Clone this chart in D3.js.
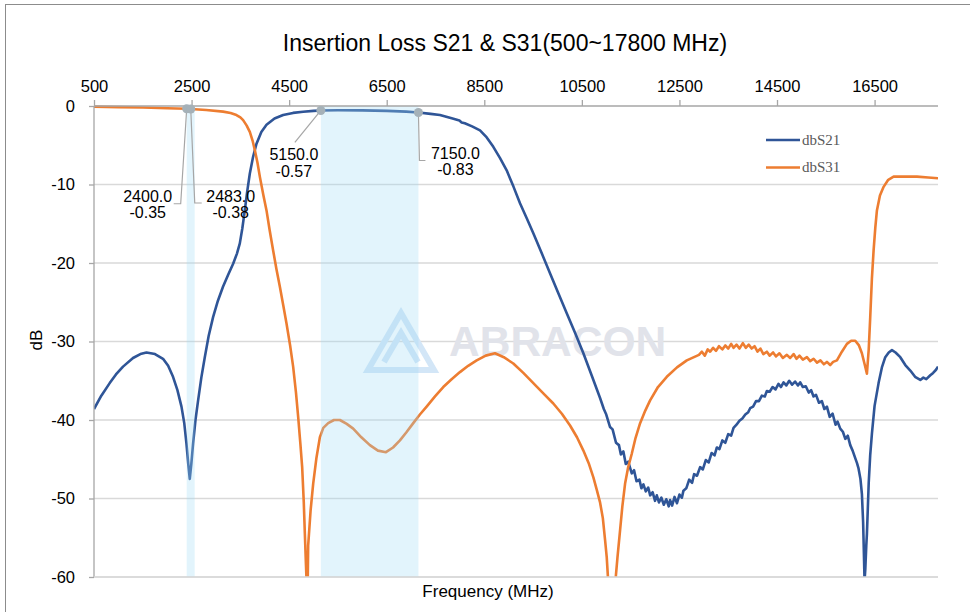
<!DOCTYPE html>
<html>
<head>
<meta charset="utf-8">
<script src="https://cdn.jsdelivr.net/npm/d3@7"></script>
<style>
  body { margin: 0; background: #fff; }
  svg { font-family: "Liberation Sans", Arial, sans-serif; }
</style>
</head>
<body>
<div id="chart"></div>
<script>
const xTicks = [500, 2500, 4500, 6500, 8500, 10500, 12500, 14500, 16500];
const yTicks = [0, -10, -20, -30, -40, -50, -60];

const s21Freq = [500, 650, 822, 950, 1095, 1300, 1450, 1575, 1750, 1915, 2020, 2120, 2210, 2293, 2350, 2395, 2435, 2463, 2495, 2531,
  2580, 2634, 2700, 2771, 2850, 2941, 3040, 3146, 3250, 3352, 3430, 3489, 3540, 3591, 3640, 3694, 3760, 3831, 3930, 4036,
  4200, 4377, 4580, 4787, 5000, 5150, 5500, 6000, 6500, 6900, 7150, 7400, 7591, 7850, 7990, 8036, 8100, 8250, 8412, 8550,
  8685, 8820, 8959, 9100, 9232, 9370, 9505, 9680, 9847, 10020, 10190, 10360, 10531, 10700, 10873, 10950, 11000, 11078, 11130, 11200,
  11260, 11300, 11351, 11400, 11450, 11523, 11570, 11620, 11680, 11720, 11762, 11810, 11860, 11900, 11950, 12000, 12036, 12080, 12130, 12180,
  12230, 12280, 12309, 12350, 12400, 12450, 12500, 12550, 12582, 12640, 12700, 12760, 12800, 12860, 12924, 12980, 13040, 13100, 13160, 13220,
  13267, 13320, 13380, 13440, 13500, 13560, 13609, 13670, 13730, 13790, 13850, 13910, 13950, 14010, 14070, 14130, 14190, 14250, 14292, 14350,
  14410, 14470, 14530, 14580, 14634, 14690, 14750, 14810, 14870, 14930, 14976, 15030, 15090, 15150, 15200, 15249, 15300, 15360, 15420, 15470,
  15523, 15580, 15640, 15700, 15740, 15796, 15850, 15900, 15950, 16001, 16050, 16100, 16140, 16172, 16210, 16240, 16265, 16285, 16294, 16310,
  16330, 16343, 16380, 16410, 16446, 16500, 16582, 16650, 16719, 16790, 16856, 16930, 17027, 17130, 17232, 17330, 17437, 17500, 17560, 17642,
  17700, 17760, 17800];
const s21Db = [-38.6, -36.9, -35.3, -34.2, -33.2, -32.1, -31.6, -31.4, -31.6, -32.2, -33.1, -34.5, -36.2, -38.3, -40.4, -43.0, -45.8, -47.5, -45.6, -43.0,
  -40.0, -37.5, -34.6, -32.0, -29.3, -26.9, -24.8, -23.0, -21.5, -20.1, -18.8, -17.5, -15.6, -13.3, -10.9, -8.6, -6.5, -4.8, -3.3, -2.4,
  -1.6, -1.15, -0.88, -0.73, -0.62, -0.57, -0.55, -0.56, -0.62, -0.72, -0.83, -1.0, -1.15, -1.6, -1.85, -2.1, -2.2, -2.6, -3.1, -4.0,
  -5.2, -6.6, -8.2, -10.3, -12.4, -14.3, -16.2, -18.8, -21.3, -23.9, -26.4, -28.9, -31.5, -34.3, -37.2, -38.6, -39.3, -40.9, -41.2, -42.9,
  -43.2, -44.4, -44.0, -45.6, -45.3, -46.8, -46.4, -47.8, -47.6, -48.7, -48.2, -49.1, -48.6, -49.6, -49.2, -50.3, -49.6, -50.5, -49.9, -50.8,
  -50.1, -51.0, -50.2, -50.9, -49.8, -50.6, -49.5, -49.9, -49.0, -48.7, -47.6, -48.0, -46.9, -47.1, -46.0, -46.3, -45.1, -45.4, -44.2, -44.5,
  -43.5, -43.7, -42.6, -42.9, -41.8, -42.0, -41.0, -40.6, -40.1, -39.8, -39.3, -39.0, -38.5, -38.3, -37.6, -37.6, -36.9, -37.0, -36.3, -36.4,
  -35.8, -36.1, -35.4, -35.8, -35.2, -35.6, -35.0, -35.5, -35.1, -35.6, -35.2, -35.8, -35.7, -36.5, -36.2, -37.0, -36.8, -37.8, -37.6, -38.6,
  -38.3, -39.6, -39.2, -40.6, -40.2, -41.1, -41.5, -42.4, -42.0, -43.2, -43.9, -44.8, -45.5, -46.2, -47.5, -49.4, -53.0, -58.0, -60.5, -59.0,
  -56.0, -54.5, -48.0, -44.5, -41.7, -38.2, -35.3, -33.3, -32.0, -31.4, -31.1, -31.4, -32.0, -33.0, -33.7, -34.5, -34.9, -34.6, -34.8, -34.3,
  -34.0, -33.6, -33.2];

const s31Freq = [500, 1000, 1500, 2000, 2400, 2483, 2800, 3146, 3300, 3420, 3500, 3557, 3630, 3694, 3750, 3796, 3850, 3899, 3970, 4036,
  4100, 4172, 4240, 4309, 4380, 4446, 4520, 4582, 4640, 4685, 4730, 4767, 4800, 4822, 4845, 4860, 4880, 4890, 4940, 4993,
  5060, 5130, 5200, 5300, 5420, 5540, 5680, 5813, 5980, 6155, 6320, 6484, 6630, 6771, 6900, 7044, 7180, 7318, 7490, 7659,
  7830, 8001, 8170, 8344, 8530, 8719, 8900, 9095, 9300, 9505, 9710, 9915, 10090, 10258, 10400, 10531, 10640, 10736, 10810, 10873,
  10930, 10976, 11010, 11044, 11120, 11181, 11230, 11284, 11330, 11386, 11450, 11523, 11600, 11694, 11800, 11899, 12060, 12241, 12450, 12651,
  12900, 12960, 13020, 13080, 13130, 13190, 13250, 13310, 13380, 13440, 13500, 13560, 13609, 13670, 13730, 13800, 13860, 13920, 13980, 14040,
  14100, 14160, 14220, 14292, 14350, 14420, 14480, 14550, 14620, 14702, 14770, 14840, 14900, 14960, 15030, 15113, 15180, 15250, 15320, 15390,
  15460, 15523, 15590, 15650, 15728, 15830, 15933, 16020, 16104, 16180, 16240, 16300, 16343, 16380, 16411, 16445, 16480, 16515, 16548, 16610,
  16685, 16780, 16890, 17100, 17369, 17600, 17800];
const s31Db = [-0.08, -0.14, -0.2, -0.28, -0.35, -0.38, -0.5, -0.72, -0.9, -1.15, -1.45, -1.8, -2.5, -3.3, -4.4, -5.6, -7.2, -9.0, -11.3, -13.3,
  -15.8, -18.4, -20.8, -23.0, -25.4, -27.7, -30.5, -33.2, -36.5, -39.6, -43.0, -46.0, -50.5, -54.5, -58.5, -61, -61, -56, -51.5, -48.1,
  -44.8, -42.2, -41.0, -40.4, -40.0, -40.0, -40.5, -41.1, -42.2, -43.2, -43.9, -44.1, -43.5, -42.6, -41.6, -40.4, -39.3, -38.3, -37.0, -35.8,
  -34.8, -33.9, -33.1, -32.4, -31.8, -31.5, -32.0, -32.8, -34.0, -35.3, -36.6, -37.9, -39.2, -40.7, -42.2, -43.9, -45.5, -47.3, -49.0, -50.5,
  -52.5, -55.3, -57.5, -61, -61, -61, -57.5, -54.0, -51.0, -48.1, -46.0, -44.3, -42.3, -40.4, -38.8, -37.5, -35.8, -34.5, -33.3, -32.4,
  -31.7, -31.3, -31.8, -31.0, -31.3, -30.8, -31.2, -30.6, -31.0, -30.5, -30.9, -30.3, -30.8, -30.4, -30.9, -30.2, -30.8, -30.4, -30.9, -30.6,
  -31.3, -30.9, -31.6, -31.3, -31.8, -31.4, -31.9, -31.5, -32.1, -31.7, -32.1, -31.6, -32.2, -31.8, -32.3, -32.0, -32.5, -32.2, -32.7, -32.4,
  -32.9, -32.6, -33.0, -32.6, -32.4, -31.3, -30.3, -29.9, -29.9, -30.5, -31.5, -33.0, -34.1, -31.0, -26.9, -22.0, -18.4, -15.5, -13.3, -11.4,
  -10.3, -9.4, -9.0, -9.0, -9.0, -9.1, -9.2];

// highlighted bands (MHz)
const bandStart = [2400, 5150];
const bandEnd = [2483, 7150];

// marker labels
const markFreq = [2400, 2483, 5150, 7150];
const markDb = [-0.35, -0.38, -0.57, -0.83];

const seriesNames = ["dbS21", "dbS31"];
const seriesColors = ["#2f5597", "#ed7d31"];

const width = 970;
const height = 612;
const plot = { left: 94, right: 938, top: 106, bottom: 577 };

const svg = d3.select("#chart").append("svg")
  .attr("width", width)
  .attr("height", height);

// chart frame
svg.append("rect")
  .attr("x", 5.5).attr("y", 4.5)
  .attr("width", 1000).attr("height", 700)
  .attr("fill", "none")
  .attr("stroke", "#8c8c8c");

const x = d3.scaleLinear().domain([500, 17800]).range([plot.left, plot.right]);
const y = d3.scaleLinear().domain([-60, 0]).range([plot.bottom, plot.top]);

svg.append("text")
  .attr("x", 505).attr("y", 51)
  .attr("text-anchor", "middle")
  .attr("font-size", 23)
  .attr("fill", "#000")
  .text("Insertion Loss S21 & S31(500~17800 MHz)");

// gridlines
svg.append("g").selectAll("line")
  .data(yTicks.filter(d => d !== 0))
  .join("line")
  .attr("x1", plot.left).attr("x2", plot.right)
  .attr("y1", d => y(d)).attr("y2", d => y(d))
  .attr("stroke", "#d9d9d9")
  .attr("stroke-width", 1.3);

// watermark
const wm = svg.append("g");
wm.append("path")
  .attr("d", "M368,370 L401,313 L434,370 Z M384,362 L401,333 L418,362")
  .attr("fill", "none")
  .attr("stroke", "#d3e6f7")
  .attr("stroke-width", 6);
wm.append("text")
  .attr("x", 449).attr("y", 356)
  .attr("font-size", 42.5)
  .attr("font-weight", "bold")
  .attr("fill", "#e1e3ea")
  .text("ABRACON");

svg.append("clipPath").attr("id", "plotclip")
  .append("rect")
  .attr("x", plot.left).attr("y", plot.top - 2)
  .attr("width", plot.right - plot.left)
  .attr("height", plot.bottom - plot.top + 2);

const line = d3.line()
  .x(d => x(d[0]))
  .y(d => y(d[1]));

const s21 = d3.zip(s21Freq, s21Db);
const s31 = d3.zip(s31Freq, s31Db);

svg.append("g").attr("clip-path", "url(#plotclip)")
  .selectAll("path")
  .data([s21, s31])
  .join("path")
  .attr("d", line)
  .attr("fill", "none")
  .attr("stroke", (d, i) => seriesColors[i])
  .attr("stroke-width", 2.6)
  .attr("stroke-linejoin", "round");

// bands drawn over the traces, semi-transparent
svg.append("g").selectAll("rect")
  .data(d3.zip(bandStart, bandEnd))
  .join("rect")
  .attr("x", d => x(d[0]))
  .attr("y", plot.top)
  .attr("width", d => Math.max(x(d[1]) - x(d[0]), 8))
  .attr("height", plot.bottom - plot.top)
  .attr("fill", "#9fdcf5")
  .attr("fill-opacity", 0.3);

// axes
const xAxis = svg.append("g")
  .attr("transform", `translate(0,${y(0)})`)
  .call(d3.axisTop(x).tickValues(xTicks).tickSize(6).tickPadding(8).tickFormat(d => String(d)));
const yAxis = svg.append("g")
  .attr("transform", `translate(${plot.left},0)`)
  .call(d3.axisLeft(y).tickValues(yTicks).tickSize(5).tickPadding(14).tickFormat(d => String(d)));

[xAxis, yAxis].forEach(ax => {
  ax.select(".domain").attr("stroke", "#a6a6a6").attr("stroke-width", 1.3);
  ax.selectAll(".tick line").attr("stroke", "#a6a6a6").attr("stroke-width", 1.3);
  ax.selectAll(".tick text")
    .style("font-family", "'Liberation Sans', Arial, sans-serif")
    .attr("font-size", 16.5)
    .attr("fill", "#000");
});
yAxis.select(".domain").attr("d", `M0,${plot.top}V${plot.bottom}`);
xAxis.select(".domain").attr("d", `M${plot.left},0H${plot.right}`);

// bottom border line at -60
svg.append("line")
  .attr("x1", plot.left).attr("x2", plot.right)
  .attr("y1", y(-60)).attr("y2", y(-60))
  .attr("stroke", "#d9d9d9")
  .attr("stroke-width", 1.3);

svg.append("text")
  .attr("x", 488).attr("y", 597)
  .attr("text-anchor", "middle")
  .attr("font-size", 17)
  .text("Frequency (MHz)");

svg.append("text")
  .attr("transform", "translate(42,340) rotate(-90)")
  .attr("text-anchor", "middle")
  .attr("font-size", 17)
  .text("dB");

// marker callouts: label offset (dx, dy of first line) and leader elbow
const labelDx = [-39, 40, -27, 37];
const labelDy = [93, 93, 50, 46];
const leaderPts = [
  [[-6, 95], [-13, 95]],
  [[4, 94], [11, 94]],
  [[-26, 32]],
  [[1, 48], [7, 48]]
];

const marks = svg.append("g");
markFreq.forEach((f, i) => {
  const px = x(f);
  const py = y(markDb[i]);
  const pts = [[px, py]].concat(leaderPts[i].map(p => [px + p[0], py + p[1]]));
  marks.append("path")
    .attr("d", d3.line()(pts))
    .attr("fill", "none")
    .attr("stroke", "#a6a6a6")
    .attr("stroke-width", 1.2);
  const t = marks.append("text")
    .attr("x", px + labelDx[i])
    .attr("y", py + labelDy[i])
    .attr("text-anchor", "middle")
    .attr("font-size", 16)
    .attr("fill", "#000");
  t.append("tspan").attr("x", px + labelDx[i]).text(f.toFixed(1));
  t.append("tspan").attr("x", px + labelDx[i]).attr("dy", 16.5).text(markDb[i].toFixed(2));
});
marks.selectAll("circle")
  .data(d3.zip(markFreq, markDb))
  .join("circle")
  .attr("cx", d => x(d[0]))
  .attr("cy", d => y(d[1]))
  .attr("r", 4.5)
  .attr("fill", "#a5b1b8");

// legend
const legend = svg.append("g");
seriesNames.forEach((name, i) => {
  const ly = 140 + i * 27.5;
  legend.append("line")
    .attr("x1", 766).attr("x2", 800)
    .attr("y1", ly).attr("y2", ly)
    .attr("stroke", seriesColors[i])
    .attr("stroke-width", 2.6);
  legend.append("text")
    .attr("x", 802).attr("y", ly)
    .attr("dy", "0.33em")
    .style("font-family", "'Liberation Serif', 'DejaVu Serif', serif")
    .attr("font-size", 15)
    .attr("fill", "#595959")
    .text(name);
});
</script>
</body>
</html>
